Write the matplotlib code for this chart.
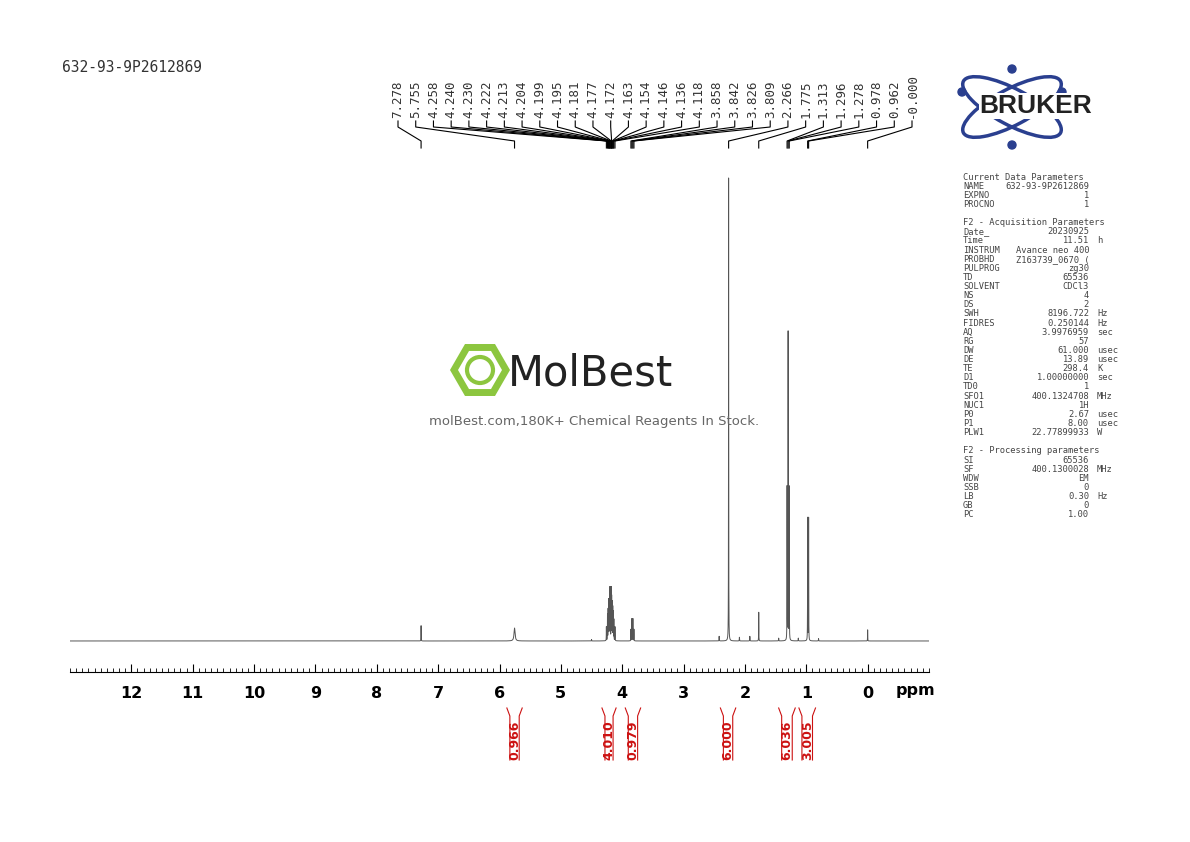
import numpy as np
import matplotlib.pyplot as plt
from matplotlib.patches import Ellipse, RegularPolygon, Circle

# peak list (ppm) and relative heights
peak_labels = [7.278, 5.755, 4.258, 4.240, 4.230, 4.222, 4.213, 4.204, 4.199, 4.195,
               4.181, 4.177, 4.172, 4.163, 4.154, 4.146, 4.136, 4.118, 3.858, 3.842,
               3.826, 3.809, 2.266, 1.775, 1.313, 1.296, 1.278, 0.978, 0.962, -0.000]
peak_shift = [7.278, 5.755, 4.258, 4.240, 4.230, 4.222, 4.213, 4.204, 4.199, 4.195,
              4.181, 4.177, 4.172, 4.163, 4.154, 4.146, 4.136, 4.118, 3.858, 3.842,
              3.826, 3.809, 2.266, 1.775, 1.313, 1.296, 1.278, 0.978, 0.962, 0.000,
              2.42, 2.09, 1.92, 1.45, 1.13, 0.80, 4.5]
peak_height = [0.033, 0.028, 0.030, 0.055, 0.065, 0.085, 0.080, 0.085, 0.095, 0.100,
               0.100, 0.095, 0.085, 0.080, 0.070, 0.060, 0.045, 0.030, 0.025, 0.048,
               0.048, 0.025, 1.000, 0.062, 0.330, 0.665, 0.330, 0.265, 0.265, 0.024,
               0.010, 0.008, 0.010, 0.006, 0.006, 0.005, 0.003]
peak_width = [0.0015, 0.010, 0.0015, 0.0015, 0.0015, 0.0015, 0.0015, 0.0015, 0.0015, 0.0015,
              0.0015, 0.0015, 0.0015, 0.0015, 0.0015, 0.0015, 0.0015, 0.0015, 0.0015, 0.0015,
              0.0015, 0.0015, 0.0015, 0.0015, 0.0015, 0.0015, 0.0015, 0.0015, 0.0015, 0.0015,
              0.002, 0.002, 0.002, 0.002, 0.002, 0.002, 0.002]

integral_ranges = [(5.88, 5.63), (4.33, 4.10), (3.95, 3.70), (2.40, 2.15), (1.45, 1.18), (1.12, 0.85)]
integral_values = ["0.966", "4.010", "0.979", "6.000", "6.036", "3.005"]

params = [
    ("Current Data Parameters", "", ""), ("NAME", "632-93-9P2612869", ""), ("EXPNO", "1", ""),
    ("PROCNO", "1", ""), ("", "", ""),
    ("F2 - Acquisition Parameters", "", ""), ("Date_", "20230925", ""), ("Time", "11.51", "h"),
    ("INSTRUM", "Avance neo 400", ""), ("PROBHD", "Z163739_0670 (", ""), ("PULPROG", "zg30", ""),
    ("TD", "65536", ""), ("SOLVENT", "CDCl3", ""), ("NS", "4", ""), ("DS", "2", ""),
    ("SWH", "8196.722", "Hz"), ("FIDRES", "0.250144", "Hz"), ("AQ", "3.9976959", "sec"),
    ("RG", "57", ""), ("DW", "61.000", "usec"), ("DE", "13.89", "usec"), ("TE", "298.4", "K"),
    ("D1", "1.00000000", "sec"), ("TD0", "1", ""), ("SFO1", "400.1324708", "MHz"),
    ("NUC1", "1H", ""), ("P0", "2.67", "usec"), ("P1", "8.00", "usec"), ("PLW1", "22.77899933", "W"),
    ("", "", ""),
    ("F2 - Processing parameters", "", ""), ("SI", "65536", ""), ("SF", "400.1300028", "MHz"),
    ("WDW", "EM", ""), ("SSB", "0", ""), ("LB", "0.30", "Hz"), ("GB", "0", ""), ("PC", "1.00", ""),
]

W, H = 1190, 842
fig = plt.figure(figsize=(11.9, 8.42), dpi=100)


def fx(px):
    return px / W


def fy(py):
    return 1 - py / H


# spectrum
x = np.linspace(13, -1, 140000)
y = np.zeros_like(x)
for s, h, w in zip(peak_shift, peak_height, peak_width):
    y += h * w**2 / ((x - s)**2 + w**2)

ax = fig.add_axes([fx(70), fy(672), fx(929 - 70), fy(170) - fy(672)])
ax.plot(x, y, color="#555555", lw=0.7)
ax.set_xlim(13, -1)
ax.set_ylim(-0.067, 1.017)
for s in ["top", "left", "right"]:
    ax.spines[s].set_visible(False)
ax.set_yticks([])
ax.set_xticks(range(0, 13))
ax.set_xticks(np.arange(-1, 13.01, 0.1), minor=True)
ax.tick_params(axis="x", which="major", direction="in", length=6, labelsize=11.5, pad=10)
ax.tick_params(axis="x", which="minor", direction="in", length=3)
for t in ax.get_xticklabels():
    t.set_fontweight("bold")
ax.text(-0.45, -0.09, "ppm", fontsize=11.5, fontweight="bold", ha="left", va="top")

# peak labels with connector lines
ov = fig.add_axes([0, 0, 1, 1], facecolor="none")
ov.set_xlim(0, W)
ov.set_ylim(H, 0)
ov.axis("off")


def ppm_to_px(p):
    return 70 + (13 - p) / 14 * (929 - 70)


label_x = np.linspace(398, 912, len(peak_labels))
for lx, p in zip(label_x, peak_labels):
    ov.text(lx, 118, f"{p:.3f}", rotation=90, ha="center", va="bottom",
            family="DejaVu Sans Mono", fontsize=9, color="#333333")
    px = ppm_to_px(p)
    ov.plot([lx, lx, px, px], [121, 127, 141, 148], color="black", lw=0.8)

# integrals
for (a, b), v in zip(integral_ranges, integral_values):
    xa, xb = ppm_to_px(a), ppm_to_px(b)
    ov.plot([xa, xa + 3, xa + 3], [708, 716, 760], color="#cc1111", lw=0.8)
    ov.plot([xb, xb - 3, xb - 3], [708, 716, 760], color="#cc1111", lw=0.8)
    ov.text((xa + xb) / 2, 740, v, rotation=90, ha="center", va="center",
            color="#cc1111", fontsize=9, fontweight="bold")

# header
ov.text(62, 68, "632-93-9P2612869", family="DejaVu Sans Mono", fontsize=10.5,
        color="#333333", va="center")

# Bruker logo
for ang in (28, -28):
    ov.add_patch(Ellipse((1012, 107), 110, 36, angle=ang, fill=False, ec="#2a3f8f", lw=2.5))
for cx, cy in [(1012, 69), (1012, 145), (962, 92), (1062, 92)]:
    ov.add_patch(Circle((cx, cy), 4, color="#2a3f8f"))
ov.text(1036, 106, "BRUKER", ha="center", va="center", fontsize=19, fontweight="bold",
        color="#222222", family="Liberation Sans",
        bbox=dict(fc="white", ec="none", pad=0.5))

# parameter panel
for i, (k, v, u) in enumerate(params):
    yy = 177 + i * 9.13
    ov.text(963, yy, k, family="DejaVu Sans Mono", fontsize=6.3, color="#444444", va="center")
    if v or u:
        ov.text(1089, yy, v, family="DejaVu Sans Mono", fontsize=6.3, color="#444444",
                va="center", ha="right")
        ov.text(1097, yy, u, family="DejaVu Sans Mono", fontsize=6.3, color="#444444", va="center")

# watermark
ov.add_patch(RegularPolygon((480, 370), 6, radius=26, orientation=np.pi / 6, fill=False,
                            ec="#8cc63f", lw=5))
ov.add_patch(Circle((480, 370), 13, fill=False, ec="#8cc63f", lw=3))
ov.text(508, 373, "MolBest", fontsize=30, va="center", ha="left", color="#222222",
        family="Liberation Sans Narrow")
ov.text(594, 421, "molBest.com,180K+ Chemical Reagents In Stock.", fontsize=9.5,
        ha="center", va="center", color="#666666")

fig.savefig("out.png", dpi=100)
